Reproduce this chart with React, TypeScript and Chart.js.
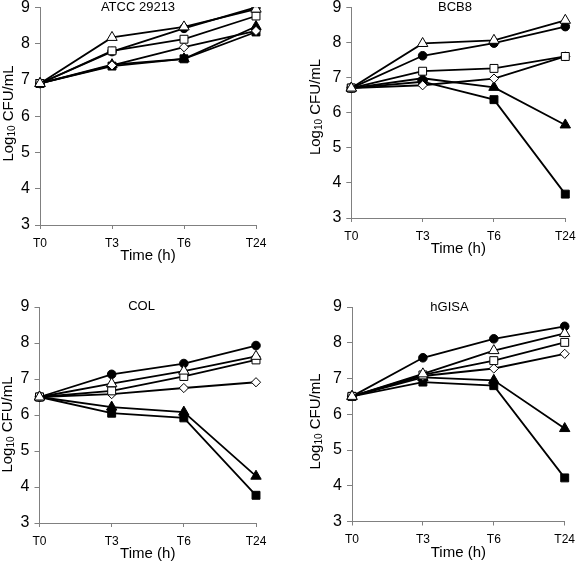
import React, { useEffect, useRef } from "react";
import { Chart, registerables } from "chart.js";

Chart.register(...registerables);

const timeLabels = ["T0", "T3", "T6", "T24"];
const yTicks = [3, 4, 5, 6, 7, 8, 9];

// ATCC 29213
const atccFilledCircle = [6.9, 7.78, 8.42, 9.0];
const atccOpenTriangle = [6.9, 8.17, 8.46, 8.95];
const atccOpenSquare = [6.9, 7.8, 8.12, 8.76];
const atccOpenDiamond = [6.9, 7.4, 7.9, 8.35];
const atccFilledTriangle = [6.9, 7.42, 7.58, 8.47];
const atccFilledSquare = [6.9, 7.38, 7.58, 8.32];

// BCB8
const bcbFilledCircle = [6.7, 7.62, 7.98, 8.45];
const bcbOpenTriangle = [6.7, 7.97, 8.06, 8.63];
const bcbOpenSquare = [6.7, 7.18, 7.26, 7.6];
const bcbOpenDiamond = [6.7, 6.78, 6.97, 7.6];
const bcbFilledTriangle = [6.7, 6.98, 6.72, 5.65];
const bcbFilledSquare = [6.7, 6.88, 6.37, 3.68];

// COL
const colFilledCircle = [6.5, 7.13, 7.43, 7.93];
const colOpenTriangle = [6.5, 6.87, 7.22, 7.63];
const colOpenSquare = [6.5, 6.67, 7.07, 7.53];
const colOpenDiamond = [6.5, 6.58, 6.75, 6.91];
const colFilledTriangle = [6.5, 6.22, 6.08, 4.3];
const colFilledSquare = [6.5, 6.05, 5.92, 3.77];

// hGISA
const hgisaFilledCircle = [6.5, 7.58, 8.11, 8.46];
const hgisaOpenTriangle = [6.5, 7.13, 7.78, 8.26];
const hgisaOpenSquare = [6.5, 7.1, 7.5, 8.01];
const hgisaOpenDiamond = [6.5, 7.07, 7.28, 7.69];
const hgisaFilledTriangle = [6.5, 7.03, 6.95, 5.6];
const hgisaFilledSquare = [6.5, 6.9, 6.8, 4.22];

const panelTitles = ["ATCC 29213", "BCB8", "COL", "hGISA"];
const panelSeries = [
  [atccOpenTriangle, atccOpenSquare, atccOpenDiamond, atccFilledTriangle, atccFilledSquare, atccFilledCircle],
  [bcbOpenTriangle, bcbOpenSquare, bcbOpenDiamond, bcbFilledTriangle, bcbFilledSquare, bcbFilledCircle],
  [colOpenTriangle, colOpenSquare, colOpenDiamond, colFilledTriangle, colFilledSquare, colFilledCircle],
  [hgisaOpenTriangle, hgisaOpenSquare, hgisaOpenDiamond, hgisaFilledTriangle, hgisaFilledSquare, hgisaFilledCircle],
];

// marker styles, in the same order as the series above
const markerStyles = [
  { pointStyle: "triangle", radius: 6, fill: "#ffffff" },
  { pointStyle: "rect", radius: 5.6, fill: "#ffffff" },
  { pointStyle: "rectRot", radius: 4.6, fill: "#ffffff" },
  { pointStyle: "triangle", radius: 6, fill: "#000000" },
  { pointStyle: "rect", radius: 5.6, fill: "#000000" },
  { pointStyle: "circle", radius: 4.3, fill: "#000000" },
];

// layout of each panel (page pixels)
const panelBoxes = [
  { left: 40, right: 256, top: 7.3, bottom: 225, titleX: 138, titleY: 7, yTitleX: 8.5, yTitleY: 113.5 },
  { left: 351.3, right: 565.3, top: 7.3, bottom: 218, titleX: 455, titleY: 7, yTitleX: 315.5, yTitleY: 107 },
  { left: 39.5, right: 256, top: 307, bottom: 523, titleX: 141.5, titleY: 306, yTitleX: 7.5, yTitleY: 424.5 },
  { left: 352, right: 564.7, top: 307, bottom: 521.5, titleX: 449.5, titleY: 307, yTitleX: 315.5, yTitleY: 421.5 },
];

const W = 576;
const H = 564;
const FONT = "'Liberation Sans', Arial, sans-serif";
const Y_AXIS_W = 34;
const X_AXIS_H = 26;

function makeTextPlugin(idx: number) {
  return {
    id: "panelText" + idx,
    afterDraw(chart: any) {
      const ctx = chart.ctx;
      const box = panelBoxes[idx];
      const area = chart.chartArea;
      ctx.save();
      ctx.fillStyle = "#000";
      // panel title
      ctx.font = `13px ${FONT}`;
      ctx.textAlign = "center";
      ctx.textBaseline = "middle";
      ctx.fillText(panelTitles[idx], box.titleX, box.titleY);
      // x title
      ctx.font = `15px ${FONT}`;
      ctx.fillText("Time (h)", (area.left + area.right) / 2, area.bottom + 31);
      // y title with subscript
      ctx.translate(box.yTitleX, box.yTitleY);
      ctx.rotate(-Math.PI / 2);
      ctx.textAlign = "left";
      const mainFont = `15px ${FONT}`;
      const subFont = `10px ${FONT}`;
      ctx.font = mainFont;
      const w1 = ctx.measureText("Log").width;
      const w3 = ctx.measureText(" CFU/mL").width;
      ctx.font = subFont;
      const w2 = ctx.measureText("10").width;
      let x = -(w1 + w2 + w3) / 2;
      ctx.font = mainFont;
      ctx.fillText("Log", x, 0);
      x += w1;
      ctx.font = subFont;
      ctx.fillText("10", x, 4);
      x += w2;
      ctx.font = mainFont;
      ctx.fillText(" CFU/mL", x, 0);
      ctx.restore();
    },
  };
}

function Panel({ idx }: { idx: number }) {
  const ref = useRef<HTMLCanvasElement | null>(null);
  useEffect(() => {
    if (!ref.current) return;
    const box = panelBoxes[idx];
    const datasets = panelSeries[idx].map((values, i) => {
      const m = markerStyles[i];
      return {
        data: values,
        borderColor: "#000",
        borderWidth: 1.8,
        pointStyle: m.pointStyle,
        pointRadius: m.radius,
        pointBackgroundColor: m.fill,
        pointBorderColor: "#000",
        pointBorderWidth: 1,
        tension: 0,
        fill: false,
      };
    });
    const chart = new Chart(ref.current, {
      type: "line",
      data: { labels: timeLabels, datasets },
      plugins: [makeTextPlugin(idx)],
      options: {
        animation: false,
        responsive: false,
        devicePixelRatio: 1,
        events: [],
        layout: {
          padding: {
            left: box.left - Y_AXIS_W,
            right: W - box.right,
            top: box.top,
            bottom: H - box.bottom - X_AXIS_H,
          },
        },
        plugins: {
          legend: { display: false },
          tooltip: { enabled: false },
          title: { display: false },
        },
        scales: {
          x: {
            type: "category",
            offset: false,
            grid: { display: true, drawOnChartArea: false, drawTicks: true, tickLength: 4, color: "#808080", lineWidth: 1 },
            border: { display: true, color: "#808080", width: 1 },
            ticks: { color: "#000", font: { family: FONT, size: 12 }, padding: 7, maxRotation: 0, autoSkip: false },
            afterFit(scale: any) {
              scale.height = X_AXIS_H;
              scale.paddingLeft = 0;
              scale.paddingRight = 0;
            },
          },
          y: {
            type: "linear",
            min: yTicks[0],
            max: yTicks[yTicks.length - 1],
            grid: { display: true, drawOnChartArea: false, drawTicks: true, tickLength: 5, color: "#808080", lineWidth: 1 },
            border: { display: true, color: "#808080", width: 1 },
            ticks: { stepSize: 1, color: "#000", font: { family: FONT, size: 16 }, padding: 5 },
            afterFit(scale: any) {
              scale.width = Y_AXIS_W;
              scale.paddingTop = 0;
              scale.paddingBottom = 0;
            },
          },
        },
      } as any,
    });
    return () => chart.destroy();
  }, [idx]);
  return (
    <canvas
      ref={ref}
      width={W}
      height={H}
      style={{ position: "absolute", left: 0, top: 0, width: W, height: H }}
    />
  );
}

export default function App() {
  useEffect(() => {
    document.body.style.margin = "0";
    document.body.style.background = "#fff";
  }, []);
  return (
    <div style={{ position: "absolute", left: 0, top: 0, width: W, height: H, background: "#fff", overflow: "hidden" }}>
      {[0, 1, 2, 3].map((i) => (
        <Panel key={i} idx={i} />
      ))}
    </div>
  );
}
